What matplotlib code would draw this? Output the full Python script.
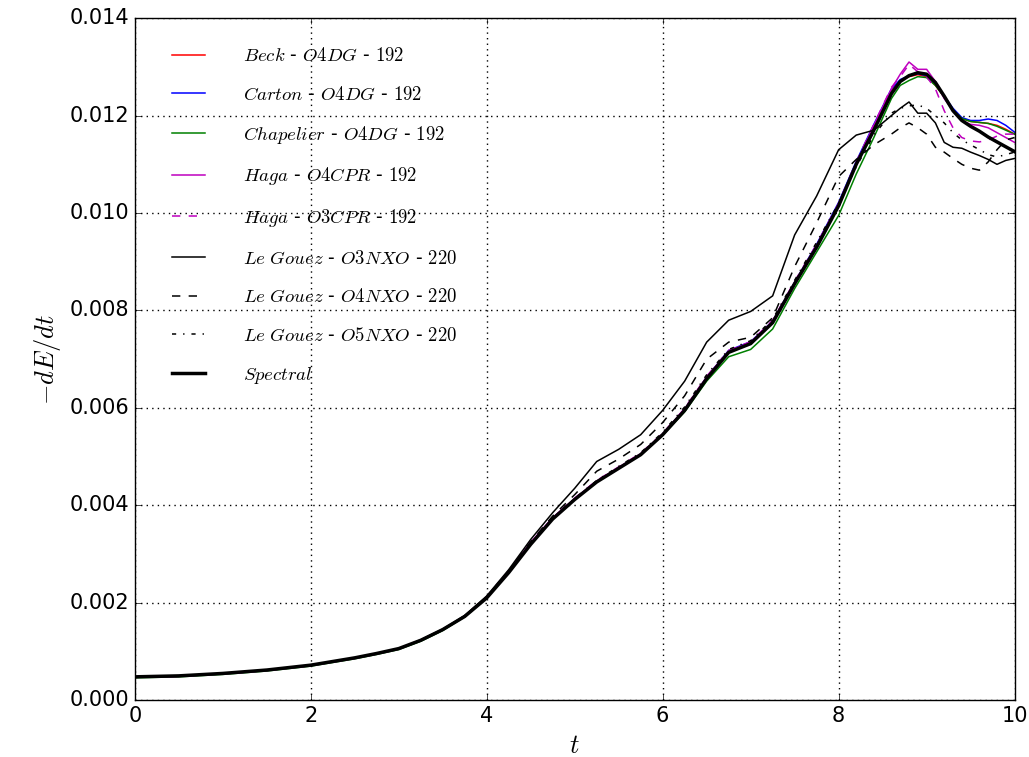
import matplotlib
matplotlib.use("Agg")
import matplotlib.pyplot as plt
import numpy as np

plt.style.use("classic")
plt.rcParams["mathtext.fontset"] = "cm"

# time samples and -dE/dt values (in units of 1e-3)
t = [0, 0.5, 1, 1.5, 2, 2.5, 2.75, 3, 3.25, 3.5, 3.75, 4, 4.25, 4.5, 4.75, 5, 5.25, 5.5, 5.75, 6,
     6.25, 6.5, 6.75, 7, 7.25, 7.5, 7.75, 8, 8.2, 8.4, 8.6, 8.7, 8.8, 8.9, 9, 9.1, 9.2, 9.3, 9.4,
     9.5, 9.6, 9.7, 9.8, 9.9, 10]

spectral = [0.48, 0.50, 0.55, 0.62, 0.72, 0.87, 0.96, 1.06, 1.23, 1.45, 1.72, 2.10, 2.62, 3.20, 3.72,
            4.12, 4.48, 4.76, 5.04, 5.45, 5.95, 6.60, 7.14, 7.32, 7.75, 8.55, 9.30, 10.15, 11.00,
            11.70, 12.45, 12.70, 12.82, 12.88, 12.85, 12.68, 12.40, 12.10, 11.90, 11.78, 11.68,
            11.56, 11.46, 11.36, 11.26]
beck = [0.47, 0.49, 0.54, 0.61, 0.71, 0.86, 0.95, 1.05, 1.22, 1.44, 1.72, 2.11, 2.63, 3.22, 3.74,
        4.13, 4.49, 4.77, 5.05, 5.46, 5.96, 6.62, 7.16, 7.33, 7.76, 8.56, 9.32, 10.18, 11.02, 11.78,
        12.52, 12.72, 12.80, 12.84, 12.80, 12.62, 12.38, 12.12, 11.94, 11.88, 11.86, 11.84, 11.80,
        11.72, 11.62]
carton = [0.47, 0.49, 0.54, 0.61, 0.71, 0.86, 0.95, 1.05, 1.22, 1.44, 1.72, 2.11, 2.63, 3.22, 3.74,
          4.13, 4.49, 4.77, 5.05, 5.46, 5.97, 6.63, 7.18, 7.36, 7.78, 8.58, 9.36, 10.22, 11.06,
          11.82, 12.55, 12.74, 12.82, 12.86, 12.82, 12.64, 12.40, 12.15, 11.96, 11.90, 11.90, 11.93,
          11.90, 11.80, 11.66]
chapelier = [0.46, 0.48, 0.53, 0.60, 0.70, 0.85, 0.94, 1.04, 1.21, 1.43, 1.71, 2.10, 2.62, 3.21, 3.73,
             4.12, 4.48, 4.76, 5.04, 5.44, 5.92, 6.55, 7.05, 7.20, 7.62, 8.45, 9.20, 9.95, 10.80,
             11.55, 12.35, 12.62, 12.72, 12.80, 12.78, 12.62, 12.38, 12.12, 11.94, 11.88, 11.86,
             11.84, 11.78, 11.70, 11.62]
haga4 = [0.47, 0.49, 0.54, 0.61, 0.71, 0.86, 0.95, 1.05, 1.23, 1.45, 1.73, 2.12, 2.65, 3.24, 3.75,
         4.14, 4.50, 4.78, 5.06, 5.47, 5.98, 6.64, 7.17, 7.35, 7.78, 8.58, 9.34, 10.18, 11.02, 11.80,
         12.55, 12.85, 13.10, 12.95, 12.95, 12.70, 12.35, 12.10, 11.90, 11.82, 11.80, 11.75, 11.65,
         11.55, 11.45]
haga3 = [0.47, 0.49, 0.54, 0.61, 0.71, 0.86, 0.95, 1.05, 1.23, 1.45, 1.73, 2.13, 2.66, 3.25, 3.76,
         4.15, 4.51, 4.79, 5.07, 5.48, 5.99, 6.65, 7.18, 7.36, 7.80, 8.60, 9.36, 10.20, 11.05, 11.82,
         12.58, 12.80, 13.05, 12.90, 12.80, 12.55, 12.10, 11.75, 11.55, 11.48, 11.46, 11.50, 11.58,
         11.62, 11.62]
gouez3 = [0.48, 0.50, 0.55, 0.62, 0.72, 0.87, 0.96, 1.06, 1.24, 1.46, 1.74, 2.14, 2.68, 3.30, 3.85,
          4.35, 4.90, 5.15, 5.45, 5.95, 6.55, 7.35, 7.80, 7.98, 8.30, 9.55, 10.35, 11.30, 11.60,
          11.70, 12.00, 12.15, 12.28, 12.05, 12.05, 11.85, 11.45, 11.35, 11.33, 11.25, 11.18, 11.10,
          11.00, 11.08, 11.12]
gouez4 = [0.48, 0.50, 0.55, 0.62, 0.72, 0.87, 0.96, 1.06, 1.23, 1.45, 1.73, 2.12, 2.65, 3.25, 3.78,
          4.22, 4.70, 4.95, 5.25, 5.70, 6.25, 7.00, 7.35, 7.45, 7.85, 8.90, 9.80, 10.75, 11.10, 11.40,
          11.62, 11.75, 11.85, 11.75, 11.62, 11.35, 11.25, 11.12, 11.00, 10.92, 10.88, 11.05, 11.30,
          11.50, 11.55]
gouez5 = [0.48, 0.50, 0.55, 0.62, 0.72, 0.87, 0.96, 1.06, 1.23, 1.45, 1.72, 2.11, 2.63, 3.21, 3.74,
          4.14, 4.51, 4.80, 5.08, 5.50, 6.02, 6.68, 7.20, 7.38, 7.82, 8.62, 9.40, 10.20, 10.95, 11.60,
          12.05, 12.15, 12.20, 12.22, 12.15, 12.00, 11.85, 11.65, 11.50, 11.40, 11.30, 11.20, 11.15,
          11.20, 11.25]

labels = [r"$Beck$ - $O4DG$ - $192$", r"$Carton$ - $O4DG$ - $192$",
          r"$Chapelier$ - $O4DG$ - $192$", r"$Haga$ - $O4CPR$ - $192$",
          r"$Haga$ - $O3CPR$ - $192$", r"$Le\ Gouez$ - $O3NXO$ - $220$",
          r"$Le\ Gouez$ - $O4NXO$ - $220$", r"$Le\ Gouez$ - $O5NXO$ - $220$",
          r"$Spectral$"]

series = [beck, carton, chapelier, haga4, haga3, gouez3, gouez4, gouez5, spectral]
styles = [("r", "-", 1.1), ("b", "-", 1.1), ("g", "-", 1.1), ("m", "-", 1.1), ("m", "--", 1.1),
          ("k", "-", 1.1), ("k", "--", 1.1), ("k", "-.", 1.1), ("k", "-", 2.5)]

fig = plt.figure(figsize=(10.29, 7.57), dpi=100, facecolor="white")
ax = fig.add_axes([0.131, 0.075, 0.855, 0.901])
for ys, lab, (c, ls, lw) in zip(series, labels, styles):
    ax.plot(t, np.array(ys) * 1e-3, color=c, linestyle=ls, linewidth=lw, label=lab)

ax.set_xlim(0, 10)
ax.set_ylim(0, 0.014)
ax.set_xticks([0, 2, 4, 6, 8, 10])
ax.set_yticks(np.arange(0, 0.0141, 0.002))
ax.set_yticklabels(["%.3f" % v for v in np.arange(0, 0.0141, 0.002)])
ax.tick_params(labelsize=15, direction="in", top=True, right=True)
ax.grid(True, color="k", linestyle=":", linewidth=1)
ax.set_xlabel(r"$t$", fontsize=19)
ax.set_ylabel(r"$-dE/dt$", fontsize=19)

ax.legend(loc="upper left", bbox_to_anchor=(0.027, 0.97), frameon=False, fontsize=13.5,
          labelspacing=1.05, handlelength=2.4, handletextpad=1.7, borderaxespad=0.0)

fig.savefig("out.png", dpi=100, facecolor="white")
